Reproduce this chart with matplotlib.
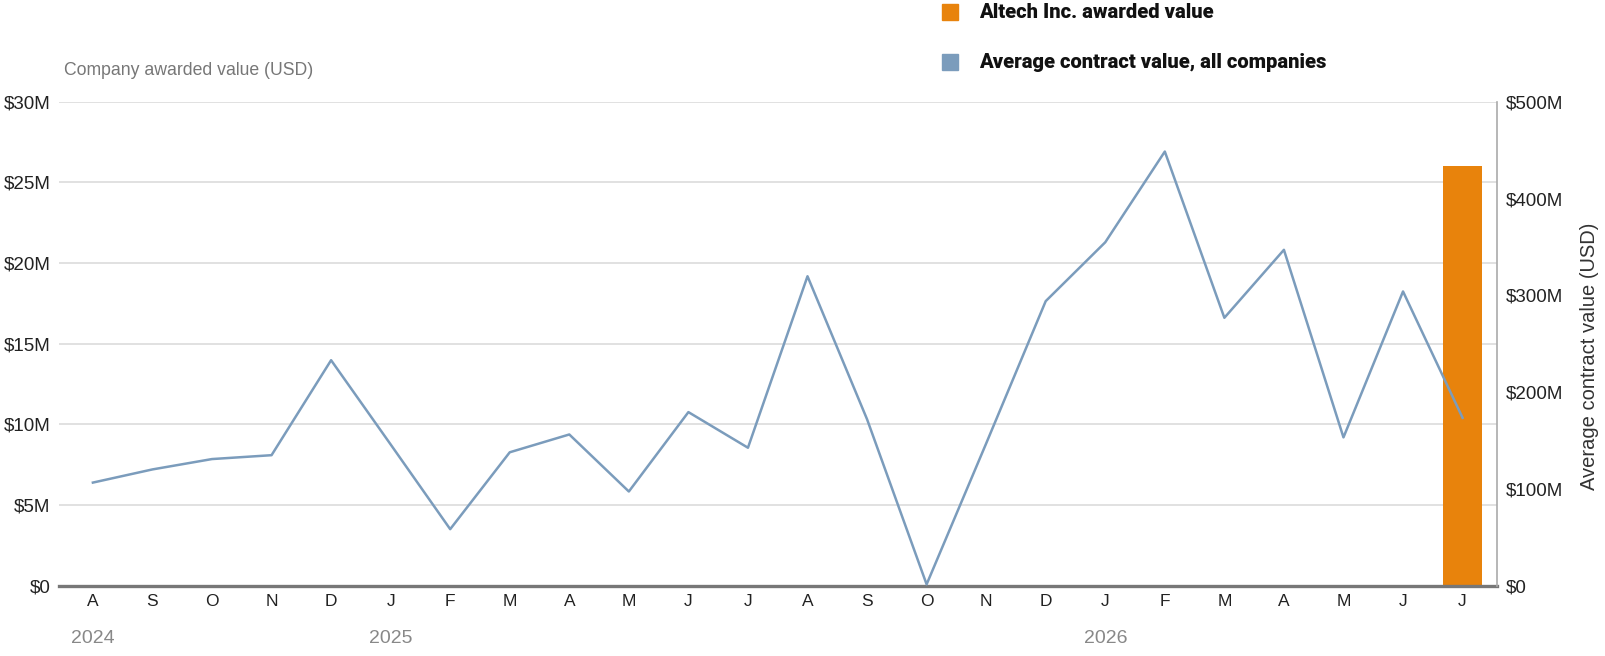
import matplotlib
matplotlib.use("Agg")
import matplotlib.pyplot as plt
from matplotlib.patches import Rectangle

# months Aug 2024 .. Jul 2026
months = ["A", "S", "O", "N", "D", "J", "F", "M", "A", "M", "J", "J",
          "A", "S", "O", "N", "D", "J", "F", "M", "A", "M", "J", "J"]
years = {0: "2024", 5: "2025", 17: "2026"}

# average contract value, all companies ($M, right axis)
avg_value = [106.6, 120.2, 130.9, 134.9, 233.0, 146.0, 58.5, 137.9, 156.3, 97.4, 179.4, 142.6,
             319.7, 172.0, 1.5, 147.0, 294.0, 354.8, 448.5, 276.8, 347.0, 153.3, 304.0, 173.5]

# Altech awarded value ($M, left axis) - only the last month
altech_idx = [23]
altech_value = [26.0]

left_ticks = list(range(0, 31, 5))
right_ticks = list(range(0, 501, 100))

orange = "#e8830c"
blue = "#7b9cbc"
grid_c = "#d9d9d9"

plt.rcParams['font.family'] = ['Liberation Sans', 'DejaVu Sans']

fig = plt.figure(figsize=(16.06, 6.56), dpi=100)
ax = fig.add_axes([0.0367, 0.107, 0.8955, 0.738])
ax2 = ax.twinx()

ax.bar(altech_idx, altech_value, width=0.66, color=orange, zorder=2)
ax2.plot(range(len(avg_value)), avg_value, color=blue, lw=1.8, zorder=3)

ax.set_xlim(-0.57, 23.58)
ax.set_ylim(0, 30)
ax2.set_ylim(0, 500)

ax.set_yticks(left_ticks)
ax.set_yticklabels([f"${v}M" if v else "$0" for v in left_ticks])
ax2.set_yticks(right_ticks)
ax2.set_yticklabels([f"${v}M" if v else "$0" for v in right_ticks])
ax.set_xticks(range(len(months)))
ax.set_xticklabels(months)

ax.grid(axis="y", color=grid_c, lw=1.1, zorder=0)
ax.set_axisbelow(True)

ax.tick_params(axis="y", length=0, pad=6, labelsize=13.5, labelcolor="#222222")
ax.tick_params(axis="x", length=0, pad=6, labelsize=12.5, labelcolor="#222222")
ax2.tick_params(axis="y", length=0, pad=6, labelsize=13.5, labelcolor="#222222")

for a in (ax, ax2):
    for s in ("top", "left", "right", "bottom"):
        a.spines[s].set_visible(False)
ax2.spines["right"].set_visible(True)
ax2.spines["right"].set_color("#aaaaaa")
ax2.spines["right"].set_linewidth(1.2)
ax.spines["bottom"].set_visible(True)
ax.spines["bottom"].set_color("#777777")
ax.spines["bottom"].set_linewidth(2.4)
ax.spines["bottom"].set_zorder(5)

# year labels under the month ticks
for i, yr in years.items():
    ax.text(i, -0.109, yr, transform=ax.get_xaxis_transform(), ha="center", va="center",
            fontsize=14, color="#888888")

# axis titles
fig.text(64 / 1606, 1 - 70.7 / 656, "Company awarded value (USD)", ha="left", va="center",
         fontsize=12.7, color="#777777")
fig.text(1590 / 1606, 1 - 356 / 656, "Average contract value (USD)", ha="center", va="center",
         rotation=90, fontsize=14.5, color="#333333")

# legend
for (y, c, lab) in [(12, orange, "Altech Inc. awarded value"),
                    (62, blue, "Average contract value, all companies")]:
    fig.patches.append(Rectangle((942 / 1606, 1 - (y + 8) / 656), 16 / 1606, 16 / 656,
                                 transform=fig.transFigure, color=c))
    fig.text(979 / 1606, 1 - y / 656, lab, ha="left", va="center", fontsize=14.5,
             fontweight="heavy", color="#111111", family=["Roboto", "DejaVu Sans"])

fig.savefig("out.png", dpi=100)
